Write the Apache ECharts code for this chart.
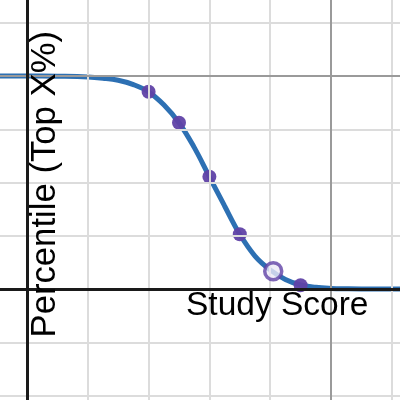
<!DOCTYPE html>
<html>
<head>
<meta charset="utf-8">
<style>
  html, body { margin: 0; padding: 0; background: #ffffff; }
  #chart { width: 400px; height: 400px; }
</style>
<script src="https://cdn.jsdelivr.net/npm/echarts@6/dist/echarts.min.js"></script>
</head>
<body>
<div id="chart"></div>
<script>
// ---- data ----
var xRange = [-4.44, 61.35];
var yRange = [-52.1, 135.7];

var gridMinorX = [10, 20, 30, 40, 60];
var gridMajorX = [50];
var gridMinorY = [-50, -25, 25, 50, 75, 125];
var gridMajorY = [100];

var curveX = [-4.5, 0, 5, 10, 12.5, 15, 17.5, 20, 22.5, 25, 27.5, 30, 32.5, 35, 37.5, 40, 42.5, 45, 47.5, 50, 52.5, 55, 61.5];
var curveY = [100, 100, 99.9, 99.6, 99.0, 98.0, 96.0, 92.6, 86.5, 78.1, 66.5, 52.7, 39.0, 25.7, 15.5, 9.0, 4.5, 1.9, 0.8, 0.3, 0.1, 0, 0];

var pointX = [20, 25, 30, 35, 45];
var pointY = [92.6, 78.1, 52.7, 25.7, 1.8];

var openX = [40.5];
var openY = [8.4];

var xLabel = 'Study Score';
var yLabel = 'Percentile (Top X%)';

// ---- build ----
function zip(a, b) { return a.map(function (v, i) { return [v, b[i]]; }); }

var minorStyle = { color: '#dcdcdc', width: 2, type: 'solid' };
var majorStyle = { color: '#9a9a9a', width: 2, type: 'solid' };
var axisStyle = { color: '#1a1a1a', width: 3, type: 'solid' };

var gridLines = [];
gridMinorX.forEach(function (v) { gridLines.push({ xAxis: v, lineStyle: minorStyle }); });
gridMinorY.forEach(function (v) { gridLines.push({ yAxis: v, lineStyle: minorStyle }); });
gridMajorX.forEach(function (v) { gridLines.push({ xAxis: v, lineStyle: majorStyle }); });
gridMajorY.forEach(function (v) { gridLines.push({ yAxis: v, lineStyle: majorStyle }); });
gridLines.push({ xAxis: 0, lineStyle: axisStyle });
gridLines.push({ yAxis: 0, lineStyle: axisStyle });

var fontX = '33.5px "Liberation Sans", Arial, Helvetica, sans-serif';
var fontY = '34.7px "Liberation Sans", Arial, Helvetica, sans-serif';

var chart = echarts.init(document.getElementById('chart'), null, { renderer: 'canvas' });
chart.setOption({
  animation: false,
  backgroundColor: '#ffffff',
  grid: { left: 0, right: 0, top: 0, bottom: 0, containLabel: false },
  xAxis: { type: 'value', min: xRange[0], max: xRange[1], show: false },
  yAxis: { type: 'value', min: yRange[0], max: yRange[1], show: false },
  series: [
    {
      type: 'line', data: [], z: 1, silent: true,
      markLine: { silent: true, symbol: ['none', 'none'], label: { show: false }, animation: false, data: gridLines }
    },
    {
      type: 'line', data: zip(curveX, curveY), z: 3, smooth: 0.4,
      showSymbol: false, silent: true,
      lineStyle: { color: '#2d70b3', width: 5 }
    },
    {
      type: 'scatter', data: zip(pointX, pointY), z: 4, symbol: 'circle', symbolSize: 14,
      itemStyle: { color: '#6042a6', opacity: 0.95 }
    },
    {
      type: 'scatter', data: zip(openX, openY), z: 5, symbol: 'circle', symbolSize: 17,
      itemStyle: { color: '#eceaf6', borderColor: '#6042a6', borderWidth: 3.5 }
    }
  ],
  graphic: [
    {
      type: 'text', x: 186, y: 306, z: 100,
      style: { text: xLabel, font: fontX, fill: '#000000', textAlign: 'left', textVerticalAlign: 'middle' }
    },
    {
      type: 'text', x: 45.8, y: 337.5, rotation: Math.PI / 2, z: 100,
      style: { text: yLabel, font: fontY, fill: '#000000', textAlign: 'left', textVerticalAlign: 'middle' }
    }
  ]
});
</script>
</body>
</html>
